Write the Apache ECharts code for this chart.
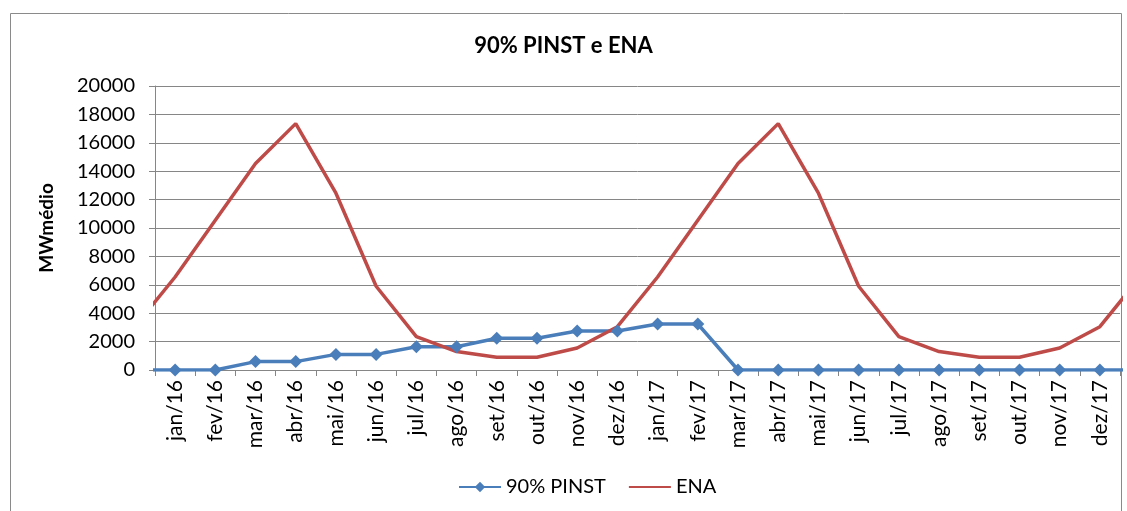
<!DOCTYPE html>
<html>
<head>
<meta charset="utf-8">
<script src="https://cdn.jsdelivr.net/npm/echarts@6/dist/echarts.min.js"></script>
<style>
html, body { margin: 0; padding: 0; background: #fff; }
#chart { width: 1127px; height: 511px; }
</style>
</head>
<body>
<div id="chart"></div>
<script>
// meses
const months = ['jan/16', 'fev/16', 'mar/16', 'abr/16', 'mai/16', 'jun/16', 'jul/16', 'ago/16', 'set/16', 'out/16', 'nov/16', 'dez/16',
    'jan/17', 'fev/17', 'mar/17', 'abr/17', 'mai/17', 'jun/17', 'jul/17', 'ago/17', 'set/17', 'out/17', 'nov/17', 'dez/17']
const pinst = [0, 0, 590, 590, 1100, 1100, 1640, 1640, 2230, 2230, 2750, 2750,
    3240, 3240, 0, 0, 0, 0, 0, 0, 0, 0, 0, 0]
const ena = [6550, 10550, 14550, 17350, 12450, 5900, 2350, 1300, 900, 900, 1550, 3050,
    6550, 10550, 14550, 17350, 12450, 5900, 2350, 1300, 900, 900, 1550, 3050]
// valores antes/depois do periodo (a linha continua ate a borda)
const pinstBefore = 0, pinstAfter = 0
const enaBefore = 3050, enaAfter = 6550
const yTicks = { min: 0, max: 20000, step: 2000 }

const font = 'Lato, "Noto Sans", sans-serif'

function withEdges(arr, before, after) {
    let out = [{ value: [-1, before], symbol: 'none' }]
    arr.forEach((v, i) => out.push([i, v]))
    out.push({ value: [arr.length, after], symbol: 'none' })
    return out
}

let chart = echarts.init(document.getElementById('chart'))
let option = {
    animation: false,
    title: {
        text: '90% PINST e ENA',
        left: 'center',
        top: 30,
        textStyle: { fontFamily: font, fontSize: 22, fontWeight: 'bold', color: '#000' }
    },
    legend: {
        bottom: 9,
        left: 453,
        itemWidth: 42,
        itemHeight: 13,
        itemGap: 22,
        textStyle: { fontFamily: font, fontSize: 20, color: '#000' },
        data: ['90% PINST', { name: 'ENA', itemStyle: { opacity: 0 } }]
    },
    graphic: [{
        type: 'rect',
        shape: { x: 10.5, y: 13.5, width: 1111, height: 520 },
        style: { fill: 'none', stroke: '#8a8a8a', lineWidth: 1 },
        silent: true
    }],
    grid: [
        { left: 155, right: 7, top: 86, bottom: 141 },
        { left: 155, right: 7, top: 86, bottom: 141 }
    ],
    xAxis: [
        {
            type: 'category',
            gridIndex: 0,
            data: months,
            boundaryGap: true,
            axisLine: { lineStyle: { color: '#868686', width: 1 } },
            axisTick: { show: true, length: 6, lineStyle: { color: '#868686' } },
            axisLabel: { rotate: 90, interval: 0, margin: 10, fontFamily: font, fontSize: 21, color: '#000' },
            splitLine: { show: false }
        },
        {
            type: 'value',
            gridIndex: 1,
            min: -0.5,
            max: months.length - 0.5,
            show: false,
            axisLine: { show: false },
            axisTick: { show: false },
            axisLabel: { show: false },
            splitLine: { show: false, lineStyle: { opacity: 0 } }
        }
    ],
    yAxis: [
        {
            type: 'value',
            gridIndex: 0,
            min: yTicks.min,
            max: yTicks.max,
            interval: yTicks.step,
            name: 'MWmédio',
            nameLocation: 'middle',
            nameGap: 99,
            nameRotate: 90,
            nameTextStyle: { fontFamily: font, fontSize: 19, fontWeight: 'bold', color: '#000' },
            axisLine: { show: true, lineStyle: { color: '#868686', width: 1 } },
            axisTick: { show: true, length: 6, lineStyle: { color: '#868686' } },
            axisLabel: { margin: 20, fontFamily: font, fontSize: 20, color: '#000', formatter: v => String(v) },
            splitLine: { lineStyle: { color: '#868686', width: 1 } }
        },
        {
            type: 'value',
            gridIndex: 1,
            min: yTicks.min,
            max: yTicks.max,
            interval: yTicks.step,
            show: false,
            splitLine: { show: false }
        }
    ],
    series: [
        {
            name: '90% PINST',
            type: 'line',
            xAxisIndex: 1,
            yAxisIndex: 1,
            data: withEdges(pinst, pinstBefore, pinstAfter),
            symbol: 'diamond',
            symbolSize: 13,
            showAllSymbol: true,
            clip: true,
            lineStyle: { color: '#4A7EBB', width: 3.5 },
            itemStyle: { color: '#4A7EBB' }
        },
        {
            name: 'ENA',
            type: 'line',
            xAxisIndex: 1,
            yAxisIndex: 1,
            data: withEdges(ena, enaBefore, enaAfter),
            symbol: 'none',
            clip: true,
            lineStyle: { color: '#BE4B48', width: 3.5 },
            itemStyle: { color: '#BE4B48' }
        }
    ]
}
chart.setOption(option)
window.addEventListener('resize', () => {
    chart.resize()
})
</script>
</body>
</html>
